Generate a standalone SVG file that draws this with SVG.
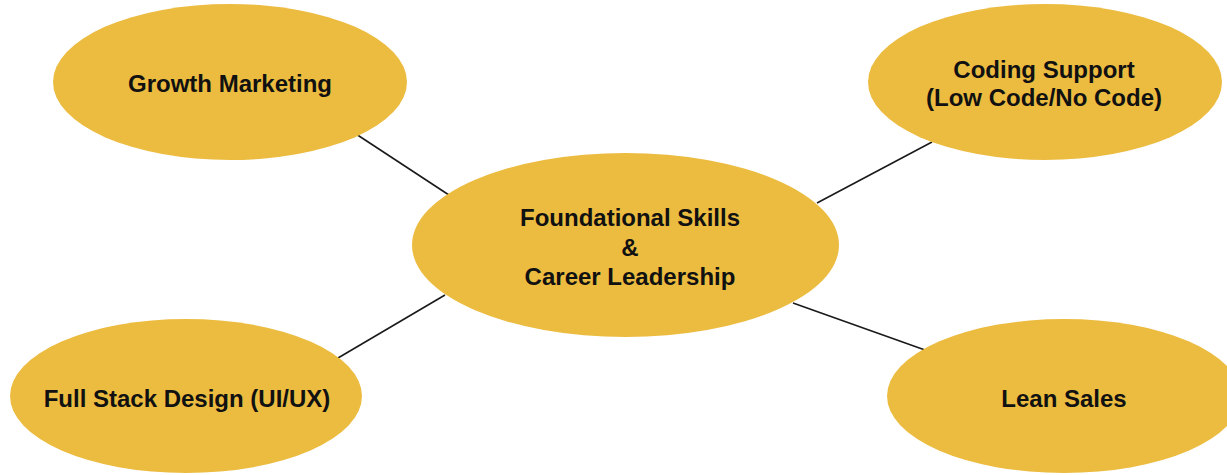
<svg xmlns="http://www.w3.org/2000/svg" width="1227" height="475" viewBox="0 0 1227 475">
<style>
.node{fill:#ECBC40}
.lbl{font-family:"Liberation Sans",Arial,Helvetica,sans-serif;font-weight:bold;font-size:24px;fill:#111;text-anchor:middle}
.conn{stroke:#1a1a1a;stroke-width:1.6;fill:none}
</style>
<rect width="1227" height="475" fill="#ffffff"/>
<g id="connectors">
<line class="conn" x1="356" y1="134" x2="452" y2="197"/>
<line class="conn" x1="932" y1="142" x2="817" y2="203"/>
<line class="conn" x1="445" y1="295" x2="338" y2="358"/>
<line class="conn" x1="793" y1="303" x2="925" y2="350"/>
</g>
<g id="growth-marketing">
<ellipse class="node" cx="230" cy="82" rx="177" ry="78"/>
<text class="lbl" x="230" y="92">Growth Marketing</text>
</g>
<g id="coding-support">
<ellipse class="node" cx="1045" cy="82" rx="177" ry="78"/>
<text class="lbl" x="1044" y="78">Coding Support</text>
<text class="lbl" x="1044" y="106">(Low Code/No Code)</text>
</g>
<g id="foundational">
<ellipse class="node" cx="625.5" cy="245" rx="213.5" ry="92"/>
<text class="lbl" x="630" y="226">Foundational Skills</text>
<text class="lbl" x="630" y="256">&amp;</text>
<text class="lbl" x="630" y="285">Career Leadership</text>
</g>
<g id="full-stack-design">
<ellipse class="node" cx="186" cy="396" rx="176" ry="77"/>
<text class="lbl" x="187" y="407">Full Stack Design (UI/UX)</text>
</g>
<g id="lean-sales">
<ellipse class="node" cx="1064" cy="396" rx="177" ry="77"/>
<text class="lbl" x="1064" y="407">Lean Sales</text>
</g>
</svg>
